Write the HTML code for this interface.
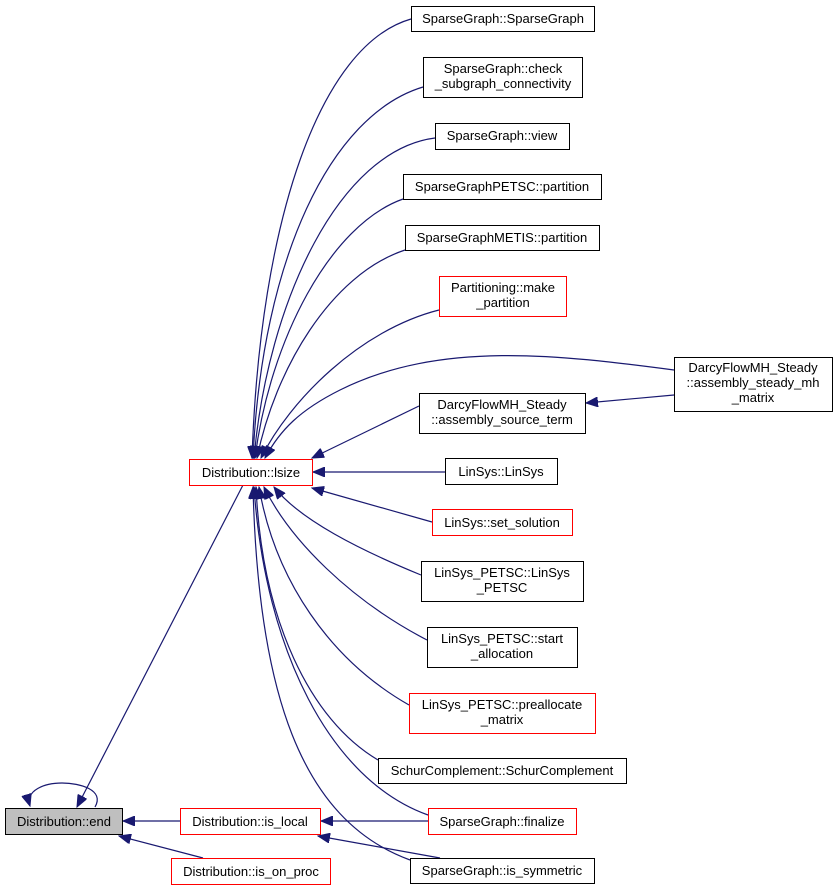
<!DOCTYPE html>
<html><head><style>
html,body{margin:0;padding:0;background:#fff;}
svg text{font-family:"Liberation Sans",sans-serif;font-size:13px;fill:#000;}
</style></head><body>
<svg width="837" height="891" viewBox="0 0 837 891" xmlns="http://www.w3.org/2000/svg">
<defs>
<marker id="a" markerWidth="13" markerHeight="10" refX="12" refY="5" orient="auto" markerUnits="userSpaceOnUse">
<path d="M0,0 L12,5 L0,10 Z" fill="#191970" stroke="#191970"/>
</marker>
</defs>
<g fill="none" stroke="#191970" stroke-width="1.2" marker-end="url(#a)">
<path d="M411,19 C320,45 260,220 252,458"/>
<path d="M423,87 C330,115 262,260 253,458"/>
<path d="M435,138 C340,150 268,300 254,458"/>
<path d="M403,199 C330,225 270,340 255,458"/>
<path d="M405,250 C330,275 275,370 257,458"/>
<path d="M439,310 C360,330 290,400 261,458"/>
<path d="M674,370 C560,355 440,340 340,390 C300,410 280,430 265,458"/>
<path d="M419,406 L312,458"/>
<path d="M445,472 L313,472"/>
<path d="M432,522 L312,488"/>
<path d="M421,575 C360,550 300,520 274,487"/>
<path d="M427,640 C350,600 290,540 264,487"/>
<path d="M409,705 C330,660 275,580 259,487"/>
<path d="M378,760 C310,720 262,620 256,487"/>
<path d="M428,815 C330,780 265,650 254,487"/>
<path d="M410,860 C300,820 258,690 253,487"/>
<path d="M243,485 L77,807"/>
<path d="M95,807 C105,790 80,783 62,783 C45,783 25,790 30,806"/>
<path d="M180,821 L123,821"/>
<path d="M203,858 L119,836"/>
<path d="M428,821 L321,821"/>
<path d="M440,858 L318,836"/>
<path d="M674,395 L586,403"/>
</g>
<g stroke-width="1" fill="#fff">
<rect x="411.5" y="6.5" width="183" height="25" stroke="#000"/>
<rect x="423.5" y="57.5" width="159" height="40" stroke="#000"/>
<rect x="435.5" y="123.5" width="134" height="26" stroke="#000"/>
<rect x="403.5" y="174.5" width="198" height="25" stroke="#000"/>
<rect x="405.5" y="225.5" width="194" height="25" stroke="#000"/>
<rect x="439.5" y="276.5" width="127" height="40" stroke="#f00"/>
<rect x="674.5" y="357.5" width="158" height="54" stroke="#000"/>
<rect x="419.5" y="393.5" width="166" height="40" stroke="#000"/>
<rect x="189.5" y="459.5" width="123" height="26" stroke="#f00"/>
<rect x="445.5" y="458.5" width="112" height="26" stroke="#000"/>
<rect x="432.5" y="509.5" width="140" height="26" stroke="#f00"/>
<rect x="421.5" y="561.5" width="162" height="40" stroke="#000"/>
<rect x="427.5" y="627.5" width="150" height="40" stroke="#000"/>
<rect x="409.5" y="693.5" width="186" height="40" stroke="#f00"/>
<rect x="378.5" y="758.5" width="248" height="25" stroke="#000"/>
<rect x="428.5" y="808.5" width="148" height="26" stroke="#f00"/>
<rect x="410.5" y="858.5" width="184" height="25" stroke="#000"/>
<rect x="5.5" y="808.5" width="117" height="26" stroke="#000" fill="#bfbfbf"/>
<rect x="180.5" y="808.5" width="140" height="26" stroke="#f00"/>
<rect x="171.5" y="858.5" width="159" height="26" stroke="#f00"/>
</g>
<g text-anchor="middle">
<text x="503" y="23">SparseGraph::SparseGraph</text>
<text x="503" y="73">SparseGraph::check</text>
<text x="503" y="88">_subgraph_connectivity</text>
<text x="502" y="140">SparseGraph::view</text>
<text x="502" y="191">SparseGraphPETSC::partition</text>
<text x="502" y="242">SparseGraphMETIS::partition</text>
<text x="503" y="292">Partitioning::make</text>
<text x="503" y="307">_partition</text>
<text x="753" y="372">DarcyFlowMH_Steady</text>
<text x="753" y="387">::assembly_steady_mh</text>
<text x="753" y="402">_matrix</text>
<text x="502" y="409">DarcyFlowMH_Steady</text>
<text x="502" y="424">::assembly_source_term</text>
<text x="251" y="477">Distribution::lsize</text>
<text x="501" y="476">LinSys::LinSys</text>
<text x="502" y="527">LinSys::set_solution</text>
<text x="502" y="577">LinSys_PETSC::LinSys</text>
<text x="502" y="592">_PETSC</text>
<text x="502" y="643">LinSys_PETSC::start</text>
<text x="502" y="658">_allocation</text>
<text x="502" y="709">LinSys_PETSC::preallocate</text>
<text x="502" y="724">_matrix</text>
<text x="502" y="775">SchurComplement::SchurComplement</text>
<text x="502" y="826">SparseGraph::finalize</text>
<text x="502" y="875">SparseGraph::is_symmetric</text>
<text x="64" y="826">Distribution::end</text>
<text x="250" y="826">Distribution::is_local</text>
<text x="251" y="876">Distribution::is_on_proc</text>
</g>
</svg>
</body></html>
